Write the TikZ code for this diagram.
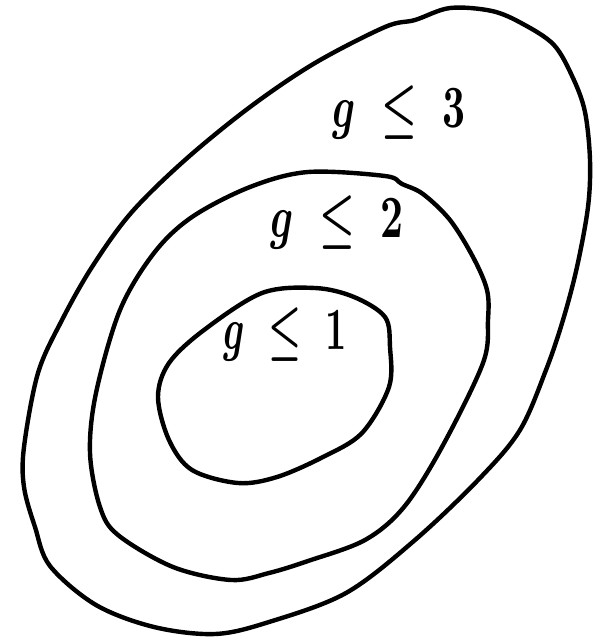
\documentclass[tikz,border=0pt]{standalone}
\usepackage{graphicx}
\begin{document}
\begin{tikzpicture}[x=1pt,y=-1pt,
  loop/.style={line width=4.4pt,line join=round,line cap=round},
  lbl/.style={inner sep=0pt}]
\useasboundingbox[fill=white] (0,0) rectangle (598,641);
\draw[loop] plot[smooth cycle,tension=0.55] coordinates{
 (415,20) (450,8) (492,11) (523,24) (554,45) (573,78) (585,112) (590,160)
 (588,207) (577,267) (563,320) (546,370) (520,430) (480,478) (415,540)
 (346,593) (269,622) (215,634) (154,627) (96,605) (50,566) (35,527)
 (24,487) (24,447) (38,373) (62,320) (92,267) (131,213) (185,160)
 (250,107) (315,63) (385,27)};
\draw[loop] plot[smooth cycle,tension=0.55] coordinates{
 (308,172) (385,176) (402,184) (423,194) (450,220) (473,257) (487,290)
 (488,320) (483,363) (442,447) (404,507) (365,540) (308,561) (269,573)
 (231,580) (173,567) (118,535) (100,507) (90,453) (96,393) (120,310)
 (154,253) (192,217) (250,187)};
\draw[loop] plot[smooth cycle,tension=0.55] coordinates{
 (315,288) (354,297) (385,317) (390,347) (389,387) (362,433) (323,457)
 (277,477) (238,483) (192,470) (169,440) (158,397) (169,363) (204,330)
 (262,293)};
\node[lbl] (l3) at (399,112) {\scalebox{4}[6]{\boldmath$g\;\leq\;3$}};
\node[lbl] (l2) at (337,222) {\scalebox{4}[6]{\boldmath$g\;\leq\;2$}};
\node[lbl] (l1) at (285,334) {\scalebox{3.7}[6]{\boldmath$g\;\leq\;1$}};
\end{tikzpicture}
\end{document}
